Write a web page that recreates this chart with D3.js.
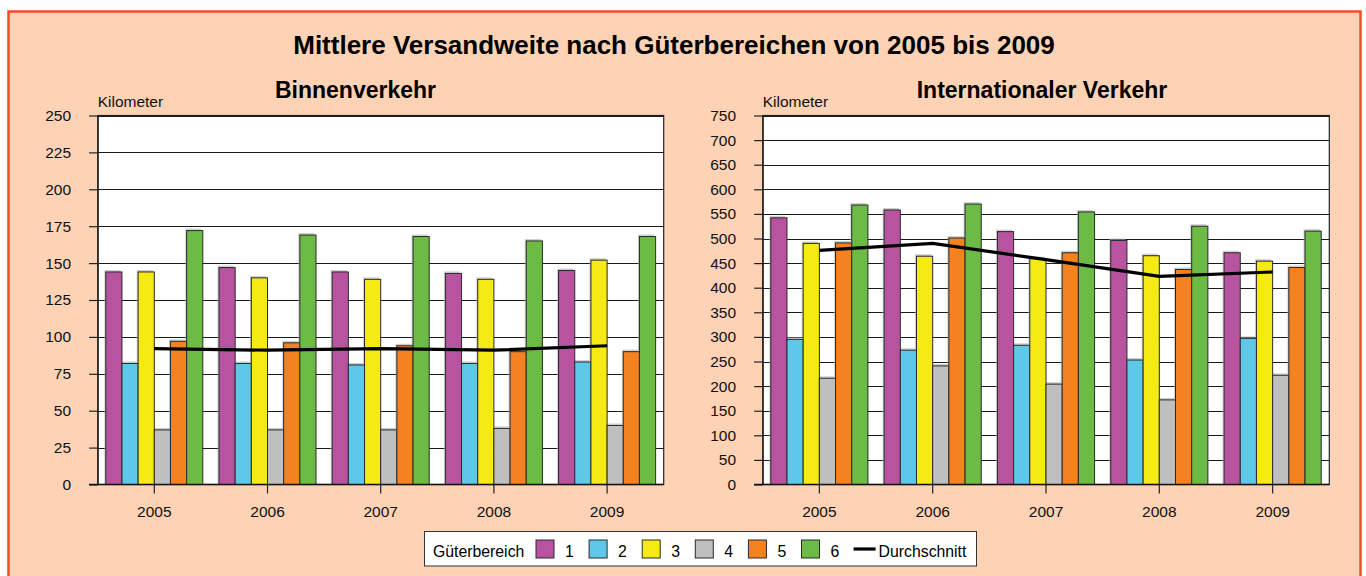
<!DOCTYPE html>
<html>
<head>
<meta charset="utf-8">
<script src="https://cdn.jsdelivr.net/npm/d3@7"></script>
<style>
  body { margin: 0; background: #fff; }
  svg { display: block; font-family: "Liberation Sans", Arial, sans-serif; }
</style>
</head>
<body>
<div class="svg-container"></div>
<script>
// data
const years = ['2005', '2006', '2007', '2008', '2009'];
const groups = ['1', '2', '3', '4', '5', '6'];
const groupColours = ['#B8549F', '#5DC8E8', '#F6EA14', '#BFBFBF', '#F58220', '#6CBB45'];

// rows = Güterbereich 1..6, columns = years
const binnenValues = [
  [144, 147, 144, 143, 145],
  [82, 82, 81, 82, 83],
  [144, 140, 139, 139, 152],
  [37, 37, 37, 38, 40],
  [97, 96, 94, 90, 90],
  [172, 169, 168, 165, 168]
];
const binnenAvg = [92, 91, 92, 91, 94];
const binnenTicks = d3.range(0, 251, 25);

const intlValues = [
  [542, 558, 514, 496, 471],
  [295, 273, 283, 253, 297],
  [490, 464, 459, 465, 454],
  [216, 241, 204, 172, 222],
  [491, 501, 471, 437, 441],
  [568, 570, 554, 525, 515]
];
const intlAvg = [476, 490, 457, 423, 432];
const intlTicks = d3.range(0, 751, 50);

const width = 1366;
const height = 576;

const svg = d3.select('.svg-container')
  .append('svg')
  .attr('width', width)
  .attr('height', height);

// peach background with red frame
svg.append('rect')
  .attr('x', 8.5).attr('y', 11.5)
  .attr('width', 1352).attr('height', 600)
  .attr('fill', '#FDD2B5')
  .attr('stroke', '#F04E25')
  .attr('stroke-width', 2.5);

svg.append('text')
  .attr('x', 674).attr('y', 54)
  .attr('text-anchor', 'middle')
  .attr('font-size', 26).attr('font-weight', 'bold')
  .text('Mittlere Versandweite nach Güterbereichen von 2005 bis 2009');

function drawPanel(opts) {
  const { left, right, title, titleX, values, avg, ticks, maxVal } = opts;
  const top = 115.5;
  const bottom = 484.5;
  const g = svg.append('g');

  const x0 = d3.scaleBand().domain(years).range([left, right]).paddingInner(0).paddingOuter(0);
  const x1 = d3.scaleBand().domain(groups).range([0, x0.bandwidth()]).paddingInner(0).paddingOuter(0.5);
  const y = d3.scaleLinear().domain([0, maxVal]).range([bottom, top]);

  // plot area
  g.append('rect')
    .attr('x', left).attr('y', top)
    .attr('width', right - left).attr('height', bottom - top)
    .attr('fill', '#fff')
    .attr('stroke', '#222')
    .attr('stroke-width', 1.2);

  // grid lines
  g.append('g')
    .selectAll('line')
    .data(ticks.slice(1))
    .enter()
    .append('line')
    .attr('x1', left).attr('x2', right)
    .attr('y1', (d) => Math.round(y(d)) + 0.5)
    .attr('y2', (d) => Math.round(y(d)) + 0.5)
    .attr('stroke', '#1a1a1a')
    .attr('stroke-width', 1.2);

  // bars, with a light shadow behind
  const bars = [];
  values.forEach((row, gi) => {
    row.forEach((v, yi) => bars.push({ group: groups[gi], year: years[yi], value: v, colour: groupColours[gi] }));
  });

  g.append('g')
    .selectAll('rect')
    .data(bars)
    .enter()
    .append('rect')
    .attr('x', (d) => x0(d.year) + x1(d.group) - 1.5)
    .attr('y', (d) => y(d.value) - 2)
    .attr('width', x1.bandwidth())
    .attr('height', (d) => bottom - y(d.value) + 2)
    .attr('fill', '#b0b0b0')
    .attr('opacity', 0.6);

  g.append('g')
    .selectAll('rect')
    .data(bars)
    .enter()
    .append('rect')
    .attr('x', (d) => x0(d.year) + x1(d.group))
    .attr('y', (d) => y(d.value))
    .attr('width', x1.bandwidth())
    .attr('height', (d) => bottom - y(d.value))
    .attr('fill', (d) => d.colour)
    .attr('stroke', '#2a2a2a')
    .attr('stroke-width', 1);

  // average line
  const line = d3.line()
    .x((d, i) => x0(years[i]) + x0.bandwidth() / 2)
    .y((d) => y(d));

  g.append('path')
    .datum(avg)
    .attr('d', line)
    .attr('fill', 'none')
    .attr('stroke', '#000')
    .attr('stroke-width', 3.2);

  // y axis
  const yAxis = g.append('g')
    .attr('transform', `translate(${left},0)`)
    .call(d3.axisLeft(y).tickValues(ticks).tickSize(8.6).tickPadding(18).tickSizeOuter(0));
  yAxis.select('.domain').attr('stroke', '#222').attr('stroke-width', 1.2);
  yAxis.selectAll('.tick line').attr('stroke', '#222').attr('stroke-width', 1.2);
  yAxis.selectAll('text').attr('font-size', 15.5).attr('fill', '#111').attr('font-family', 'Liberation Sans, Arial, sans-serif');

  // x axis
  const xAxis = g.append('g')
    .attr('transform', `translate(0,${bottom})`)
    .call(d3.axisBottom(x0).tickSize(9).tickPadding(12).tickSizeOuter(0));
  xAxis.select('.domain').remove();
  xAxis.selectAll('.tick line').attr('stroke', '#222').attr('stroke-width', 1.2);
  xAxis.selectAll('text').attr('font-size', 15.5).attr('fill', '#111').attr('font-family', 'Liberation Sans, Arial, sans-serif');

  g.append('line')
    .attr('x1', left - 8.6).attr('x2', right)
    .attr('y1', bottom).attr('y2', bottom)
    .attr('stroke', '#111')
    .attr('stroke-width', 1.6);

  // titles
  g.append('text')
    .attr('x', titleX).attr('y', 98)
    .attr('text-anchor', 'middle')
    .attr('font-size', 23).attr('font-weight', 'bold')
    .text(title);

  g.append('text')
    .attr('x', left).attr('y', 107)
    .attr('font-size', 15.5)
    .attr('fill', '#111')
    .text('Kilometer');
}

drawPanel({ left: 97.7, right: 663.7, title: 'Binnenverkehr', titleX: 355.5, values: binnenValues, avg: binnenAvg, ticks: binnenTicks, maxVal: 250 });
drawPanel({ left: 762.7, right: 1329.3, title: 'Internationaler Verkehr', titleX: 1042, values: intlValues, avg: intlAvg, ticks: intlTicks, maxVal: 750 });

// legend
const legend = svg.append('g');
legend.append('rect')
  .attr('x', 424.5).attr('y', 531.5)
  .attr('width', 552).attr('height', 34.5)
  .attr('fill', '#fff')
  .attr('stroke', '#333')
  .attr('stroke-width', 1);

legend.append('text')
  .attr('x', 433).attr('y', 557)
  .attr('font-size', 15.8)
  .text('Güterbereich');

const itemStart = 536;
const itemStep = 53.1;

const items = legend.selectAll('.item')
  .data(groups)
  .enter()
  .append('g')
  .attr('class', 'item')
  .attr('transform', (d, i) => `translate(${itemStart + i * itemStep},0)`);

items.append('rect')
  .attr('x', 0).attr('y', 540)
  .attr('width', 18).attr('height', 18)
  .attr('fill', (d, i) => groupColours[i])
  .attr('stroke', '#2a2a2a')
  .attr('stroke-width', 1);

items.append('text')
  .attr('x', 29).attr('y', 557)
  .attr('font-size', 15.8)
  .text((d) => d);

const lineX = itemStart + groups.length * itemStep;
legend.append('line')
  .attr('x1', lineX - 1).attr('x2', lineX + 21)
  .attr('y1', 549).attr('y2', 549)
  .attr('stroke', '#000')
  .attr('stroke-width', 3.2);

legend.append('text')
  .attr('x', lineX + 24).attr('y', 557)
  .attr('font-size', 15.8)
  .text('Durchschnitt');
</script>
</body>
</html>
